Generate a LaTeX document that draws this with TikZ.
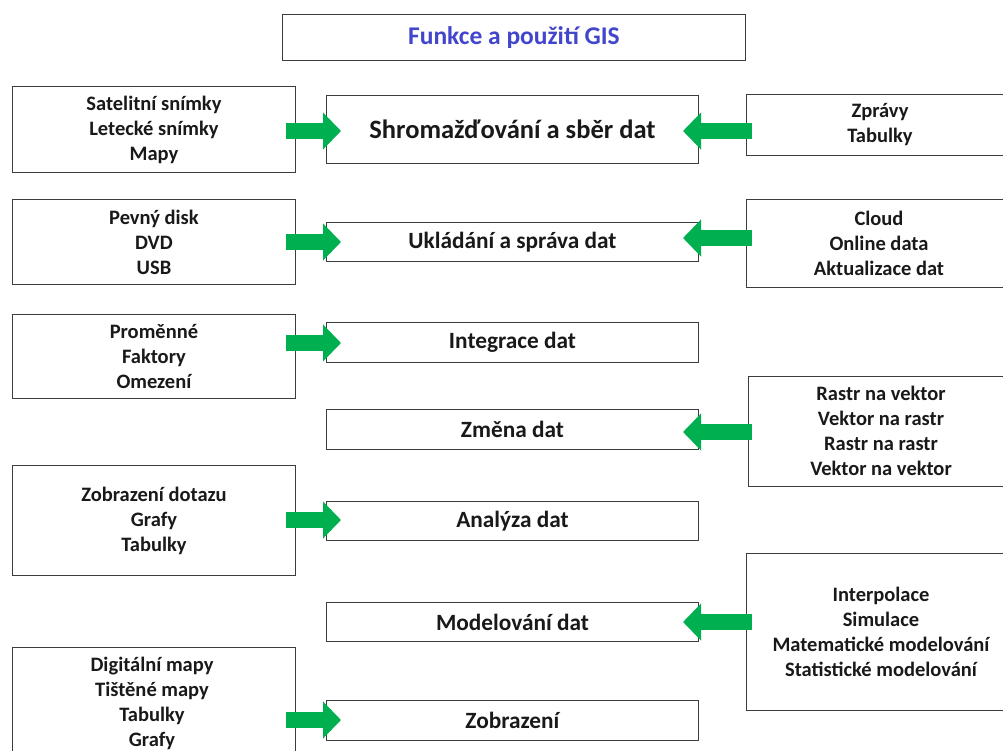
\documentclass[tikz,border=0pt]{standalone}
\usepackage{fontspec}
\setmainfont{Carlito}
\usetikzlibrary{arrows.meta}
\definecolor{gr}{RGB}{0,176,80}
\definecolor{ttl}{RGB}{66,70,204}
\definecolor{bd}{RGB}{60,60,60}
\begin{document}
\begin{tikzpicture}[x=1pt,y=-1pt,
  sidetext/.style={font=\bfseries\fontsize{20.5}{25}\selectfont,text=black!90,align=center},
  box/.style={draw=bd,line width=0.9pt,fill=white,anchor=north west,inner sep=0pt,align=center,font=\bfseries\fontsize{23.3}{25}\selectfont,text=black!90},
  lbox/.style={box,font=\bfseries\fontsize{20.5}{25}\selectfont},
  garrow/.style={draw=gr,line width=16pt,-{Triangle[length=18pt,width=36pt]}}]
\useasboundingbox (0,0) rectangle (1003,751);
% title
\node[box,minimum width=463pt,minimum height=46pt,text=ttl,font=\bfseries\fontsize{25.5}{28}\selectfont] (title) at (282,14) {Funkce a použití GIS};
% left boxes
\node[lbox,minimum width=283pt,minimum height=86pt] (l1) at (12,86) {Satelitní snímky\\Letecké snímky\\Mapy};
\node[lbox,minimum width=283pt,minimum height=85pt] (l2) at (12,199) {Pevný disk\\DVD\\USB};
\node[lbox,minimum width=283pt,minimum height=84pt] (l3) at (12,314) {Proměnné\\Faktory\\Omezení};
\node[lbox,minimum width=283pt,minimum height=110pt] (l4) at (12,465) {Zobrazení dotazu\\Grafy\\Tabulky};
\draw[bd,line width=0.9pt] (12,760) -- (12,647) -- (295,647) -- (295,760);
\node[sidetext] (l5) at (152,703) {Digitální mapy\\Tištěné mapy\\Tabulky\\Grafy};
% center boxes
\node[box,minimum width=372pt,minimum height=68pt,font=\bfseries\fontsize{26.5}{28}\selectfont] (c1) at (326,95) {Shromažďování a sběr dat};
\node[box,minimum width=372pt,minimum height=39pt] (c2) at (326,222) {Ukládání a správa dat};
\node[box,minimum width=372pt,minimum height=40pt] (c3) at (326,322) {Integrace dat};
\node[box,minimum width=372pt,minimum height=40pt] (c4) at (326,409) {Změna dat};
\node[box,minimum width=372pt,minimum height=39pt] (c5) at (326,501) {Analýza dat};
\node[box,minimum width=372pt,minimum height=39pt] (c6) at (326,602) {Modelování dat};
\node[box,minimum width=372pt,minimum height=40pt] (c7) at (326,700) {Zobrazení};
% right boxes
\draw[bd,line width=0.9pt] (1010,94) -- (746,94) -- (746,155) -- (1010,155);
\node[sidetext] (r1) at (880,125) {Zprávy\\Tabulky};
\draw[bd,line width=0.9pt] (1010,199) -- (746,199) -- (746,287) -- (1010,287);
\node[sidetext] (r2) at (879,243) {Cloud\\Online data\\Aktualizace dat};
\draw[bd,line width=0.9pt] (1010,376) -- (748,376) -- (748,486) -- (1010,486);
\node[sidetext] (r3) at (881,431) {Rastr na vektor\\Vektor na rastr\\Rastr na rastr\\Vektor na vektor};
\draw[bd,line width=0.9pt] (1010,553) -- (746,553) -- (746,710) -- (1010,710);
\node[sidetext] (r4) at (881,632) {Interpolace\\Simulace\\Matematické modelování\\Statistické modelování};
% arrows
\coordinate (a1s) at (286,131); \coordinate (a1e) at (341,131);
\coordinate (a2s) at (286,242); \coordinate (a2e) at (341,242);
\coordinate (a3s) at (286,343); \coordinate (a3e) at (341,343);
\coordinate (a5s) at (286,520); \coordinate (a5e) at (341,520);
\coordinate (a7s) at (286,720); \coordinate (a7e) at (341,720);
\draw[garrow] (a1s) -- (a1e);
\draw[garrow] (a2s) -- (a2e);
\draw[garrow] (a3s) -- (a3e);
\draw[garrow] (a5s) -- (a5e);
\draw[garrow] (a7s) -- (a7e);
\coordinate (b1s) at (752,131); \coordinate (b1e) at (683,131);
\coordinate (b2s) at (752,238); \coordinate (b2e) at (683,238);
\coordinate (b4s) at (752,432); \coordinate (b4e) at (683,432);
\coordinate (b6s) at (752,622); \coordinate (b6e) at (683,622);
\draw[garrow] (b1s) -- (b1e);
\draw[garrow] (b2s) -- (b2e);
\draw[garrow] (b4s) -- (b4e);
\draw[garrow] (b6s) -- (b6e);
\end{tikzpicture}
\end{document}
